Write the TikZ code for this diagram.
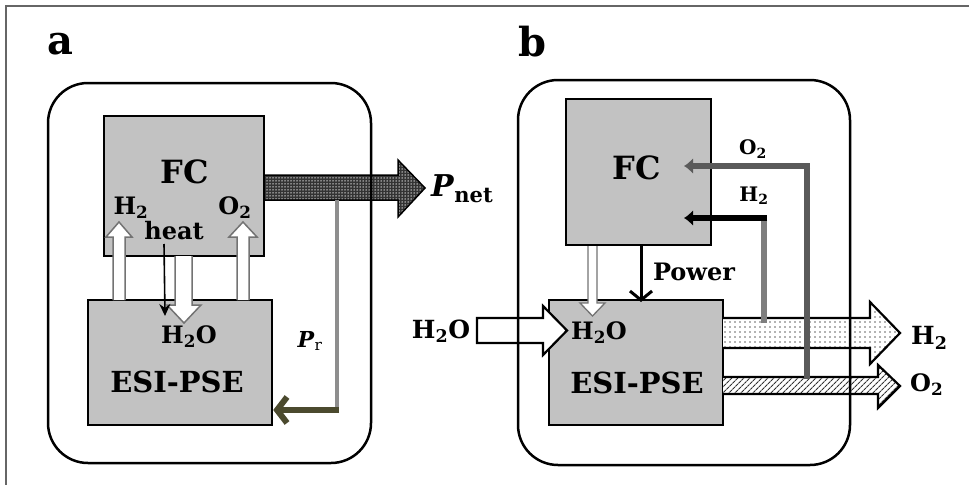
\documentclass[tikz,border=0pt]{standalone}
\usepackage{fontspec}
\setmainfont{DejaVu Serif}
\usetikzlibrary{arrows.meta,patterns,patterns.meta}
\definecolor{boxgray}{HTML}{C2C2C2}
\definecolor{olive}{HTML}{4B4A2E}
\definecolor{ltgray}{HTML}{8E8E8E}
\definecolor{dkgray}{HTML}{5A5A5A}
\definecolor{midgray}{HTML}{7E7E7E}
\begin{document}
\begin{tikzpicture}[x=1pt,y=-1pt,
  box/.style={draw, line width=2.5pt, fill=boxgray, inner sep=0pt},
  outer/.style={draw, line width=2.5pt, rounded corners=40pt},
  whitearrow/.style={draw=black!55, line width=1.5pt, fill=white},
  blockarrow/.style={draw, line width=2.2pt, fill=white, line join=miter},
  t/.style={inner sep=0pt, font=\bfseries\fontsize{#1}{#1}\selectfont},
  panel/.style={inner sep=0pt, font=\bfseries\fontsize{40}{40}\selectfont}]
\useasboundingbox (0,0) rectangle (969,487);
% page frame
\draw[black!60, line width=2pt] (969,6) -- (6,6) -- (6,485);

% ================= panel a =================
\node[panel] (la) at (60,44) {a};
\node[box, minimum width=160pt, minimum height=140pt] (fca) at (184,186) {};
\node[box, minimum width=184pt, minimum height=125pt] (esia) at (180,362.5) {};

% P_net arrow
\fill[black!80] (265,175) -- (398,175) -- (398,160) -- (425,188) -- (398,217) -- (398,200) -- (265,200) -- cycle;
\fill[pattern={Dots[distance=3pt,radius=0.75pt]}, pattern color=white!75!gray] (265,175) -- (398,175) -- (398,160) -- (425,188) -- (398,217) -- (398,200) -- (265,200) -- cycle;
\draw[line width=1.5pt, line join=miter] (265,175) -- (398,175) -- (398,160) -- (425,188) -- (398,217) -- (398,200) -- (265,200);
\coordinate (pnet) at (425,188);

% white arrows
\draw[whitearrow] (113,300) -- (113,237) -- (106,237) -- (119,222) -- (132,237) -- (125,237) -- (125,300);
\draw[whitearrow] (237,300) -- (237,237) -- (229,237) -- (243,222) -- (257,237) -- (249,237) -- (249,300);
\draw[whitearrow] (175,256) -- (175,305) -- (167,305) -- (184,323) -- (201,305) -- (192,305) -- (192,256);
% heat arrow
\coordinate (heatS) at (164,244);
\draw[line width=1.6pt, -{Stealth[length=12pt,width=11pt]}] (heatS) -- (165,316);

% P_r line
\coordinate (prtop) at (337,200);
\coordinate (prcorner) at (337,410);
\draw[ltgray, line width=4pt] (prtop) -- (prcorner);
\draw[olive, line width=6pt, -{Straight Barb[length=10pt,width=26pt,line width=6pt]}] ([xshift=2pt]prcorner) -- (esia.east |- prcorner);

% labels a
\node[t=32] at (185,172) {FC};
\node[t=24] at (131,208) {H\textsubscript{2}};
\node[t=24] at (235,208) {O\textsubscript{2}};
\node[t=24] at (174,231) {heat};
\node[t=24] at (189,337) {H\textsubscript{2}O};
\node[t=29] at (177,382) {ESI-PSE};
\node[t=30, anchor=west] at (431,189) {\textit{P}\textsubscript{net}};
\node[t=22] at (310,341) {\textit{P}\textsubscript{\mdseries r}};

\draw[outer] (48,83) rectangle (371,463);

% ================= panel b =================
\node[panel] (lb) at (532,42) {b};
\node[box, minimum width=145pt, minimum height=146pt] (fcb) at (638.5,172) {};
\node[box, minimum width=174pt, minimum height=125pt] (esib) at (636,362.5) {};

% H2O input arrow
\draw[blockarrow] (477,318) -- (543,318) -- (543,306) -- (567,330.5) -- (543,355) -- (543,343) -- (477,343) -- cycle;
% H2 output
\path[fill=white] (723,318) -- (870,318) -- (870,302) -- (900,333) -- (870,364) -- (870,348) -- (723,348) -- cycle;
\path[pattern={Dots[distance=5pt,radius=0.8pt]}, pattern color=black!60] (723,318) -- (870,318) -- (870,302) -- (900,333) -- (870,364) -- (870,348) -- (723,348) -- cycle;
\draw[line width=2.2pt, line join=miter] (723,318) -- (870,318) -- (870,302) -- (900,333) -- (870,364) -- (870,348) -- (723,348);
% O2 output
\path[fill=white] (723,377) -- (878,377) -- (878,365) -- (900,386) -- (878,408) -- (878,394) -- (723,394) -- cycle;
\path[pattern={Lines[angle=45,distance=4pt,line width=1.1pt]}, pattern color=black!80] (723,377) -- (878,377) -- (878,365) -- (900,386) -- (878,408) -- (878,394) -- (723,394) -- cycle;
\draw[line width=2.2pt, line join=miter] (723,377) -- (878,377) -- (878,365) -- (900,386) -- (878,408) -- (878,394) -- (723,394);

% thin white arrow FC -> ESI
\draw[whitearrow, line width=1.3pt] (588,246) -- (588,303) -- (580,303) -- (592.5,316) -- (605,303) -- (597,303) -- (597,246);
% Power arrow
\draw[line width=3pt, -{Straight Barb[length=9pt,width=22pt,line width=3pt]}] (fcb.south -| 641,0) -- (641,302);

% O2 return line
\coordinate (o2bot) at (807,379);
\coordinate (o2top) at (807,163);
\draw[dkgray, line width=6pt] (o2bot) -- (o2top);
\draw[dkgray, line width=6pt, -{Latex[length=9pt,width=16pt]}] (810,166) -- (684,166);
% H2 return line
\coordinate (h2bot) at (764,323);
\draw[midgray, line width=6pt] (h2bot) -- (764,218);
\draw[black, line width=6pt, -{Latex[length=9pt,width=16pt]}] (767,218) -- (684,218);

% labels b
\node[t=32] at (637,168) {FC};
\node[t=20] at (753,149) {O\textsubscript{2}};
\node[t=20] at (754,196) {H\textsubscript{2}};
\node[t=24] at (694,272) {Power};
\node[t=25] at (441,331) {H\textsubscript{2}O};
\node[t=24] at (599,333) {H\textsubscript{2}O};
\node[t=29] at (637,383) {ESI-PSE};
\node[t=25, anchor=west] at (911,338) {H\textsubscript{2}};
\node[t=24, anchor=west] at (910,385) {O\textsubscript{2}};

\draw[outer] (518,80) rectangle (850,465);
\end{tikzpicture}
\end{document}
